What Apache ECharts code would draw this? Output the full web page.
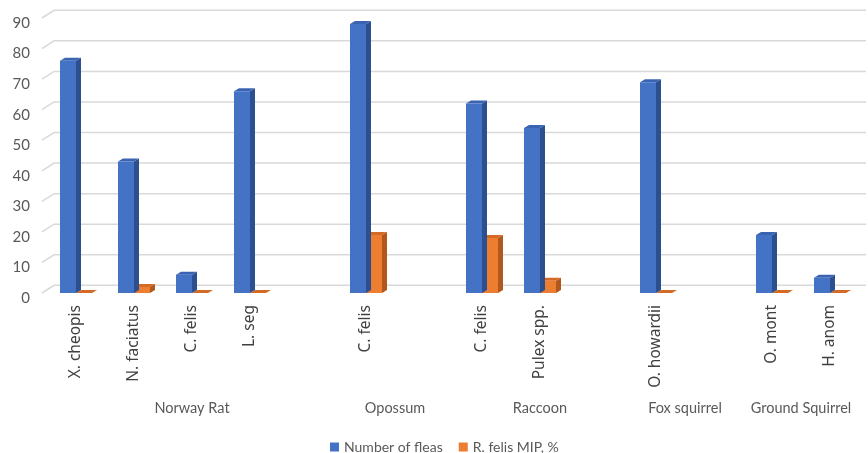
<!DOCTYPE html>
<html>
<head>
<meta charset="utf-8">
<title>Fleas by host</title>
<script src="https://cdn.jsdelivr.net/npm/echarts@6/dist/echarts.min.js"></script>
<style>
  html, body { margin: 0; padding: 0; background: #ffffff; }
  #chart { width: 868px; height: 453px; }
</style>
</head>
<body>
<div id="chart"></div>
<script>
// Flea species per host; empty strings are spacer slots between host groups
const species = ['X. cheopis', 'N. faciatus', 'C. felis', 'L. seg', '',
                 'C. felis', '',
                 'C. felis', 'Pulex spp.', '',
                 'O. howardii', '',
                 'O. mont', 'H. anom'];
const fleaCounts = [76, 43, 6, 66, null, 88, null, 62, 54, null, 69, null, 19, 5];
const mipPercent = [0, 2, 0, 0, null, 19, null, 18, 4, null, 0, null, 0, 0];

// Host groups: name and the number of species slots each one spans
const hostNames = ['Norway Rat', 'Opossum', 'Raccoon', 'Fox squirrel', 'Ground Squirrel'];
const hostSpans = [5, 2, 3, 2, 2];

const yTicks = [0, 10, 20, 30, 40, 50, 60, 70, 80, 90];
const seriesNames = ['Number of fleas', 'R. felis MIP, %'];

// Group label axis: one point per half slot edge, label at each group's centre
const hostAxis = new Array(species.length * 2 + 1).fill('');
let start = 0;
hostNames.forEach((name, i) => {
  hostAxis[start * 2 + hostSpans[i]] = name;
  start += hostSpans[i];
});

// 3D look: bar depth offsets and the distance to the back wall
const DEPTH_X = 5, DEPTH_Y = 3;
const WALL_DY = 7.7, WALL_LEFT = 42, WALL_X = 54, WALL_RIGHT = 866;
const BAR_FRACTION = 16 / 58;

function barRenderer(sideIndex, front, side, top) {
  return function (params, api) {
    const v = api.value(1);
    if (v === null || v === undefined || isNaN(v)) return;
    const base = api.coord([api.value(0), 0]);
    const head = api.coord([api.value(0), v]);
    const w = api.size([1, 0])[0] * BAR_FRACTION;
    const x0 = sideIndex === 0 ? base[0] - w : base[0];
    const x1 = x0 + w;
    const yb = base[1], yt = head[1];
    return {
      type: 'group',
      children: [
        { type: 'polygon',
          shape: { points: [[x1, yb], [x1, yt], [x1 + DEPTH_X, yt - DEPTH_Y], [x1 + DEPTH_X, yb - DEPTH_Y]] },
          style: { fill: side } },
        { type: 'polygon',
          shape: { points: [[x0, yt], [x1, yt], [x1 + DEPTH_X, yt - DEPTH_Y], [x0 + DEPTH_X, yt - DEPTH_Y]] },
          style: { fill: top } },
        { type: 'rect',
          shape: { x: x0, y: yt, width: w, height: yb - yt },
          style: { fill: front } }
      ]
    };
  };
}

function gridRenderer(params, api) {
  const y = api.coord([0, api.value(0)])[1];
  return {
    type: 'polyline',
    shape: { points: [[WALL_LEFT, y], [WALL_X, y - WALL_DY], [WALL_RIGHT, y - WALL_DY]] },
    style: { stroke: '#d9d9d9', lineWidth: 1.5, fill: null }
  };
}

const chart = echarts.init(document.getElementById('chart'), null, { renderer: 'canvas' });
chart.setOption({
  animation: false,
  backgroundColor: '#ffffff',
  grid: { left: 47, right: 9, top: 18, bottom: 160, outerBoundsMode: 'none' },
  legend: {
    data: seriesNames,
    left: 325,
    top: 435,
    icon: 'rect',
    itemWidth: 9,
    itemHeight: 9,
    itemGap: 16,
    textStyle: { fontFamily: 'Lato', fontSize: 14, color: '#595959' }
  },
  xAxis: [
    {
      type: 'category',
      data: species,
      axisLine: { show: false },
      axisTick: { show: false },
      axisLabel: {
        interval: 0, rotate: 90, margin: 12,
        fontFamily: 'Noto Sans', fontSize: 15.5, color: '#404040'
      }
    },
    {
      type: 'category',
      data: hostAxis,
      boundaryGap: false,
      position: 'bottom',
      offset: 100,
      axisLine: { show: false },
      axisTick: { show: false },
      axisLabel: {
        interval: 0, margin: 8,
        fontFamily: 'Lato', fontSize: 14.5, color: '#595959'
      }
    }
  ],
  yAxis: {
    type: 'value',
    min: 0, max: 90, interval: 10,
    axisLine: { show: false },
    axisTick: { show: false },
    splitLine: { show: false },
    axisLabel: {
      margin: 17,
      formatter: '{n|{value}}',
      rich: { n: { padding: [10, 0, 0, 0], fontFamily: 'Lato', fontSize: 15, color: '#595959' } }
    }
  },
  series: [
    {
      type: 'custom',
      name: 'gridlines',
      z: 1,
      silent: true,
      clip: false,
      renderItem: gridRenderer,
      data: yTicks.map(v => [v]),
      encode: { y: 0 }
    },
    {
      type: 'custom',
      name: seriesNames[0],
      z: 3,
      itemStyle: { color: '#4472c4' },
      clip: false,
      renderItem: barRenderer(0, '#4472c4', '#2c4f8f', '#3a64b2'),
      data: fleaCounts.map((v, i) => [i, v]),
      encode: { x: 0, y: 1 }
    },
    {
      type: 'custom',
      name: seriesNames[1],
      z: 2,
      itemStyle: { color: '#ed7d31' },
      clip: false,
      renderItem: barRenderer(1, '#ed7d31', '#b3581c', '#d46a24'),
      data: mipPercent.map((v, i) => [i, v]),
      encode: { x: 0, y: 1 }
    }
  ]
});
</script>
</body>
</html>
